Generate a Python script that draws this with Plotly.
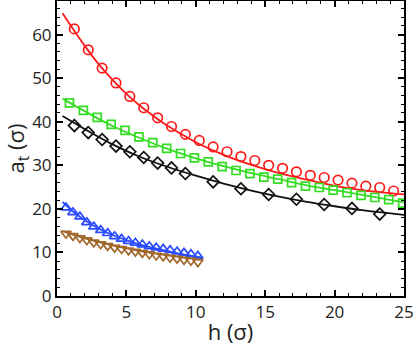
import plotly.graph_objects as go

# ---- data ----
red_x = [1.25 + k for k in range(24)]
red_y = [61.3, 56.5, 52.3, 48.9, 45.8, 43.2, 40.9, 38.9, 37.1, 35.7, 34.2, 33.1,
         32.0, 31.1, 30.0, 29.3, 28.5, 27.7, 27.2, 26.6, 25.9, 25.2, 24.9, 24.1]
red_fit_x = [0.4, 1, 2, 3, 4, 5, 6, 7, 8, 10, 12, 14, 16, 18, 20, 22, 25]
red_fit_y = [64.9, 62.0, 57.4, 53.2, 49.6, 46.4, 43.6, 41.2, 39.0, 35.3, 32.4, 30.1,
             28.2, 26.7, 25.3, 24.3, 23.3]

green_x = [0.9 + k for k in range(25)]
green_y = [44.3, 42.6, 41.0, 39.4, 38.0, 36.5, 35.2, 33.9, 32.7, 31.7, 30.8, 29.7,
           28.8, 28.1, 27.3, 26.8, 26.0, 25.2, 24.9, 24.3, 23.7, 23.1, 22.6, 22.1, 21.3]
green_fit_x = [0.4, 2, 4, 6, 8, 10, 12, 14, 16, 18, 20, 22, 25]
green_fit_y = [45.3, 42.4, 39.0, 36.2, 33.7, 31.6, 29.8, 28.2, 26.8, 25.4, 24.3, 23.2, 21.5]

black_x = [1.25, 2.25, 3.25, 4.25, 5.25, 6.25, 7.25, 8.25, 9.25,
           11.25, 13.25, 15.25, 17.25, 19.25, 21.25, 23.25]
black_y = [39.1, 37.5, 35.9, 34.4, 33.1, 31.8, 30.5, 29.4, 28.1,
           26.2, 24.6, 23.3, 22.2, 21.0, 20.1, 18.8]
black_fit_x = [0.4, 2, 4, 6, 8, 10, 12, 14, 16, 18, 20, 22, 25]
black_fit_y = [41.3, 38.3, 34.8, 31.9, 29.6, 27.6, 25.8, 24.2, 22.8, 21.6, 20.6, 19.7, 18.6]

blue_x = [0.65 + 0.5 * k for k in range(20)]
blue_y = [20.3, 19.2, 18.2, 16.9, 15.9, 15.1, 14.4, 13.7, 13.1, 12.6,
          12.2, 11.8, 11.4, 11.1, 10.8, 10.5, 10.2, 9.9, 9.6, 9.2]
blue_fit_x = [0.4, 1, 2, 3, 4, 5, 6, 7, 8, 9, 10.5]
blue_fit_y = [21.6, 19.8, 17.4, 15.5, 14.0, 12.8, 11.8, 11.0, 10.3, 9.6, 8.8]

brown_x = [0.65 + 0.5 * k for k in range(20)]
brown_y = [14.3, 13.8, 13.3, 12.8, 12.3, 11.9, 11.5, 11.1, 10.8, 10.5,
           10.2, 9.9, 9.6, 9.3, 9.1, 8.8, 8.6, 8.3, 8.1, 7.8]
brown_fit_x = [0.4, 2, 4, 6, 8, 10.5]
brown_fit_y = [14.9, 13.2, 11.6, 10.3, 9.3, 8.3]

x_ticks = [0, 5, 10, 15, 20, 25]
y_ticks = [0, 10, 20, 30, 40, 50, 60]

RED = "#ff1a1a"
GREEN = "#33dd22"
BLACK = "#111111"
BLUE = "#2a4bff"
BROWN = "#a0662a"

fig = go.Figure()

def add_series(fx, fy, mx, my, color, symbol, size):
    fig.add_trace(go.Scatter(x=fx, y=fy, mode="lines", line=dict(color=color, width=1.8, shape="spline"),
                             hoverinfo="skip", showlegend=False))
    fig.add_trace(go.Scatter(x=mx, y=my, mode="markers",
                             marker=dict(symbol=symbol, size=size, color=color,
                                         line=dict(color=color, width=1.7)),
                             showlegend=False))

add_series(red_fit_x, red_fit_y, red_x, red_y, RED, "circle-open", 9.5)
add_series(green_fit_x, green_fit_y, green_x, green_y, GREEN, "square-open", 8)
add_series(black_fit_x, black_fit_y, black_x, black_y, BLACK, "diamond-open", 9)
add_series(blue_fit_x, blue_fit_y, blue_x, blue_y, BLUE, "triangle-up-open", 9)
add_series(brown_fit_x, brown_fit_y, brown_x, brown_y, BROWN, "triangle-down-open", 9)

axis_common = dict(showline=True, linecolor="black", linewidth=2, mirror="allticks",
                   ticks="inside", ticklen=6, tickwidth=1.5, tickcolor="black",
                   showgrid=False, zeroline=False,
                   tickfont=dict(family="Open Sans", size=17, color="#222"))

fig.update_xaxes(range=[0, 25], tickvals=x_ticks,
                 minor=dict(dtick=1, ticks="inside", ticklen=3, tickwidth=1.2, tickcolor="black"),
                 title=dict(text="h (σ)", font=dict(family="Open Sans", size=22, color="#222"), standoff=8),
                 **axis_common)
fig.update_yaxes(range=[0, 67.7], tickvals=y_ticks,
                 minor=dict(dtick=2, ticks="inside", ticklen=3, tickwidth=1.2, tickcolor="black"),
                 title=dict(text="a<sub>t</sub> (σ)", font=dict(family="Open Sans", size=22, color="#222"), standoff=0),
                 **axis_common)

fig.update_layout(width=415, height=346, margin=dict(l=57, r=11, t=1, b=50, autoexpand=False),
                  plot_bgcolor="white", paper_bgcolor="white")

fig.write_html("out.html", config={"displayModeBar": False},
               post_script="document.body.style.margin='0';")
